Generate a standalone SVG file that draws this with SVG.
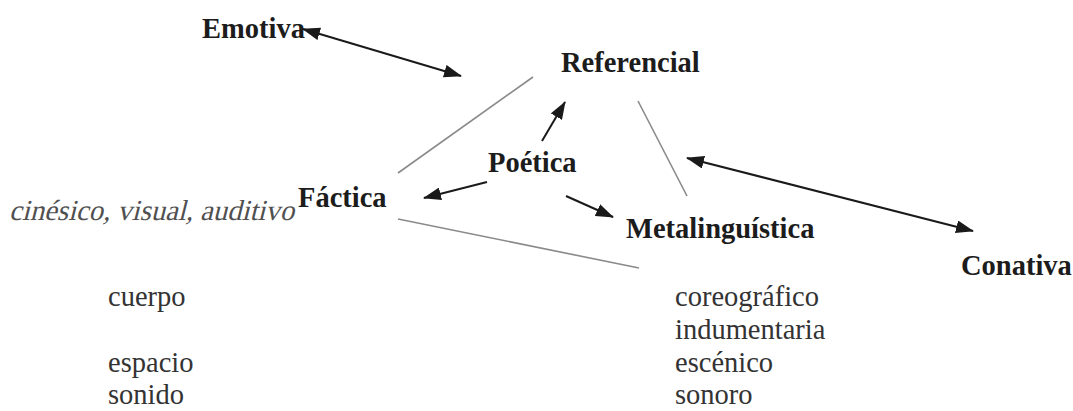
<svg xmlns="http://www.w3.org/2000/svg" width="1073" height="411" viewBox="0 0 1073 411">
  <style>
    .fn { font-family: "Liberation Serif", "Times New Roman", serif; font-weight: bold; font-size: 28.5px; fill: #1c1c1c; }
    .ch { font-family: "Liberation Serif", "Times New Roman", serif; font-size: 29px; fill: #505050; }
    .it { font-family: "Liberation Serif", "Times New Roman", serif; font-size: 28.5px; fill: #333333; }
    .arrow { stroke: #1a1a1a; stroke-width: 2; fill: none; }
    .side { stroke: #8a8a8a; stroke-width: 1.6; fill: none; }
  </style>
  <defs>
    <marker id="head" viewBox="0 0 18 13" refX="17" refY="6.5" markerWidth="18" markerHeight="13" markerUnits="userSpaceOnUse" orient="auto-start-reverse">
      <path d="M0,0 L18,6.5 L0,13 z" fill="#1a1a1a"/>
    </marker>
  </defs>
  <rect width="1073" height="411" fill="#ffffff"/>

  <!-- triangle sides and arrows -->
  <g id="connectors">
    <line class="side" x1="533" y1="77" x2="398" y2="173"/>
    <line class="side" x1="638" y1="101" x2="687" y2="196"/>
    <line class="side" x1="398" y1="219" x2="639" y2="268" stroke="#7a7a7a" stroke-width="2"/>
    <line class="arrow" x1="303" y1="29" x2="461" y2="76" marker-start="url(#head)" marker-end="url(#head)"/>
    <line class="arrow" x1="542" y1="141" x2="565" y2="102" marker-end="url(#head)"/>
    <line class="arrow" x1="487" y1="182" x2="424" y2="198" marker-end="url(#head)"/>
    <line class="arrow" x1="566" y1="196" x2="613" y2="217" marker-end="url(#head)"/>
    <line class="arrow" x1="687" y1="158" x2="973" y2="231" marker-start="url(#head)" marker-end="url(#head)"/>
  </g>

  <g id="emotiva"><text class="fn" x="202" y="38">Emotiva</text></g>
  <g id="referencial"><text class="fn" x="561" y="72">Referencial</text></g>
  <g id="poetica"><text class="fn" x="488" y="172">Poética</text></g>
  <g id="factica"><text class="fn" x="298" y="207">Fáctica</text></g>
  <g id="metalinguistica"><text class="fn" x="626" y="238">Metalinguística</text></g>
  <g id="conativa"><text class="fn" x="961" y="275">Conativa</text></g>

  <!-- slanted serif line for the channels -->
  <g id="channels" transform="translate(9,220) skewX(-14)">
    <text class="ch" x="0" y="0" textLength="285" lengthAdjust="spacingAndGlyphs">cinésico, visual, auditivo</text>
  </g>

  <g id="codes-left">
    <text class="it" x="108" y="306">cuerpo</text>
    <text class="it" x="108" y="372">espacio</text>
    <text class="it" x="108" y="404">sonido</text>
  </g>
  <g id="codes-right">
    <text class="it" x="675" y="306">coreográfico</text>
    <text class="it" x="675" y="339">indumentaria</text>
    <text class="it" x="675" y="372">escénico</text>
    <text class="it" x="675" y="404">sonoro</text>
  </g>
</svg>
